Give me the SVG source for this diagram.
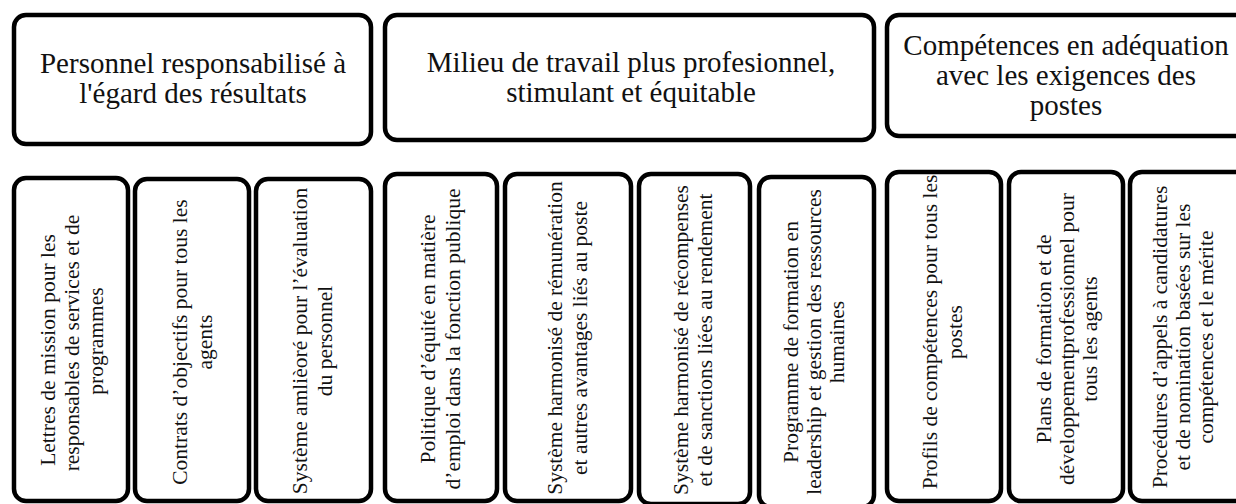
<svg xmlns="http://www.w3.org/2000/svg" width="1236" height="504" viewBox="0 0 1236 504">
<style>
.box{fill:#fff;stroke:#000;stroke-width:4.5}
.t{font-family:"Liberation Serif","Times New Roman",serif;font-size:29px;fill:#111;text-anchor:middle}
.v{font-family:"Liberation Serif","Times New Roman",serif;font-size:21.5px;fill:#111;text-anchor:middle}
</style>
<rect width="1236" height="504" fill="#fff"/>
<g id="top1"><rect class="box" x="14" y="15" width="357" height="129" rx="12"/>
<text class="t"><tspan x="193" y="73">Personnel responsabilisé à</tspan><tspan x="193" y="103">l'égard des résultats</tspan></text></g>
<g id="top2"><rect class="box" x="385" y="15" width="489" height="125" rx="12"/>
<text class="t"><tspan x="631" y="72">Milieu de travail plus profesionnel,</tspan><tspan x="631" y="102">stimulant et équitable</tspan></text></g>
<g id="top3"><rect class="box" x="887" y="15" width="370" height="121" rx="12"/>
<text class="t"><tspan x="1066" y="55">Compétences en adéquation</tspan><tspan x="1066" y="85">avec les exigences des</tspan><tspan x="1066" y="115">postes</tspan></text></g>

<g id="b1"><rect class="box" x="14" y="178" width="114" height="323" rx="12"/>
<text class="v" transform="rotate(-90)"><tspan x="-350" y="55">Lettres de mission pour les</tspan><tspan x="-343" y="79">responsables de services et de</tspan><tspan x="-341" y="103">programmes</tspan></text></g>
<g id="b2"><rect class="box" x="135" y="179" width="114" height="322" rx="12"/>
<text class="v" transform="rotate(-90)"><tspan x="-342" y="187">Contrats d’objectifs pour tous les</tspan><tspan x="-342" y="212">agents</tspan></text></g>
<g id="b3"><rect class="box" x="256" y="179" width="115" height="322" rx="12"/>
<text class="v" transform="rotate(-90)"><tspan x="-341" y="307">Système amlièoré pour l’évaluation</tspan><tspan x="-341" y="332">du personnel</tspan></text></g>
<g id="b4"><rect class="box" x="385" y="174" width="112" height="327" rx="12"/>
<text class="v" transform="rotate(-90)"><tspan x="-339" y="435">Politique d’équité en matière</tspan><tspan x="-339" y="460">d’emploi dans la fonction publique</tspan></text></g>
<g id="b5"><rect class="box" x="505" y="174" width="126" height="327" rx="12"/>
<text class="v" transform="rotate(-90)"><tspan x="-338" y="562">Système harmonisé de rémunération</tspan><tspan x="-338" y="587">et autres avantages liés au poste</tspan></text></g>
<g id="b6"><rect class="box" x="639" y="174" width="111" height="330" rx="12"/>
<text class="v" transform="rotate(-90)"><tspan x="-340" y="688">Système harmonisé de récompenses</tspan><tspan x="-340" y="712">et de sanctions liées au rendement</tspan></text></g>
<g id="b7"><rect class="box" x="759" y="177" width="115" height="330" rx="12"/>
<text class="v" transform="rotate(-90)"><tspan x="-342" y="798">Programme de formation en</tspan><tspan x="-342" y="821">leadership et gestion des ressources</tspan><tspan x="-342" y="844">humaines</tspan></text></g>
<g id="b8"><rect class="box" x="887" y="172" width="114" height="329" rx="12"/>
<text class="v" transform="rotate(-90)"><tspan x="-332" y="937">Profils de compétences pour tous les</tspan><tspan x="-332" y="962">postes</tspan></text></g>
<g id="b9"><rect class="box" x="1009" y="172" width="114" height="329" rx="12"/>
<text class="v" transform="rotate(-90)"><tspan x="-339" y="1051">Plans de formation et de</tspan><tspan x="-339" y="1074">développementprofessionnel pour</tspan><tspan x="-339" y="1097">tous les agents</tspan></text></g>
<g id="b10"><rect class="box" x="1130" y="172" width="130" height="329" rx="12"/>
<text class="v" transform="rotate(-90)"><tspan x="-337" y="1167">Procédures d’appels à candidatures</tspan><tspan x="-337" y="1190">et de nomination basées sur les</tspan><tspan x="-337" y="1213">compétences et le mérite</tspan></text></g>
<g id="connectors"/>
</svg>
